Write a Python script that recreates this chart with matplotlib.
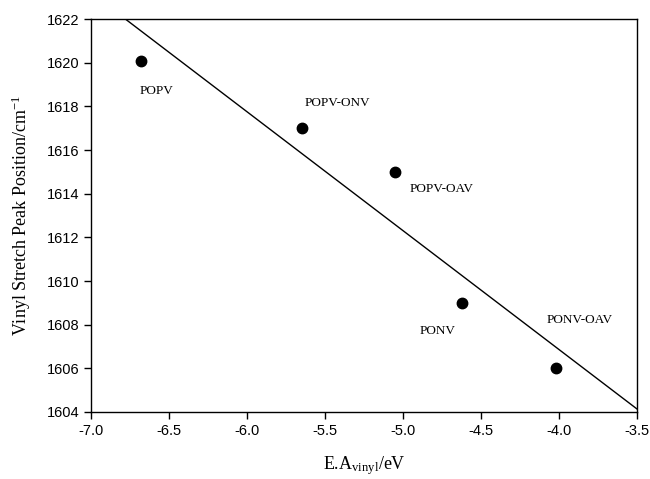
import numpy as np
import matplotlib
matplotlib.use("Agg")
import matplotlib.pyplot as plt

# values
labels = ["POPV", "POPV-ONV", "POPV-OAV", "PONV", "PONV-OAV"]
ea_vinyl = [-6.68, -5.65, -5.05, -4.62, -4.02]
peak_pos = [1620.1, 1617.0, 1615.0, 1609.0, 1606.0]

# where each name sits (data coords)
label_x = [-6.58, -5.42, -4.75, -4.78, -3.87]
label_y = [1618.7, 1618.15, 1614.2, 1607.7, 1608.2]

x_ticks = [-7.0, -6.5, -6.0, -5.5, -5.0, -4.5, -4.0, -3.5]
y_ticks = [1604, 1606, 1608, 1610, 1612, 1614, 1616, 1618, 1620, 1622]

plt.rcParams['mathtext.fontset'] = 'custom'
plt.rcParams['mathtext.rm'] = 'Liberation Serif'
plt.rcParams['mathtext.it'] = 'Liberation Serif:italic'

fig = plt.figure(figsize=(6.5, 4.79), dpi=100)
ax = fig.add_axes([0.14, 0.14, 0.84, 0.82])

# linear fit through the points
slope, icept = np.polyfit(ea_vinyl, peak_pos, 1)
xl = np.array([-7.0, -3.5])
ax.plot(xl, slope * xl + icept, color='black', lw=1.0)

ax.plot(ea_vinyl, peak_pos, 'o', color='black', markersize=7.5)

for name, tx, ty in zip(labels, label_x, label_y):
    ax.text(tx, ty, name, ha='center', va='center', fontsize=9.5,
            family='Liberation Serif')

ax.set_xlim(-7.0, -3.5)
ax.set_ylim(1604, 1622)
ax.set_xticks(x_ticks)
ax.set_xticklabels(["%.1f" % v for v in x_ticks])
ax.set_yticks(y_ticks)
ax.tick_params(direction='out', length=5, width=1, labelsize=10.5)
for lab in ax.get_xticklabels() + ax.get_yticklabels():
    lab.set_family('Liberation Sans')
for sp in ax.spines.values():
    sp.set_linewidth(1.0)

ax.set_xlabel(r'E.A$_{\mathrm{vinyl}}$/eV', fontsize=13,
              family='Liberation Serif', labelpad=12)
ax.set_ylabel(r'Vinyl Stretch Peak Position/cm$^{\mathrm{-1}}$', fontsize=13,
              family='Liberation Serif', labelpad=10)

fig.savefig('out.png', dpi=100)
